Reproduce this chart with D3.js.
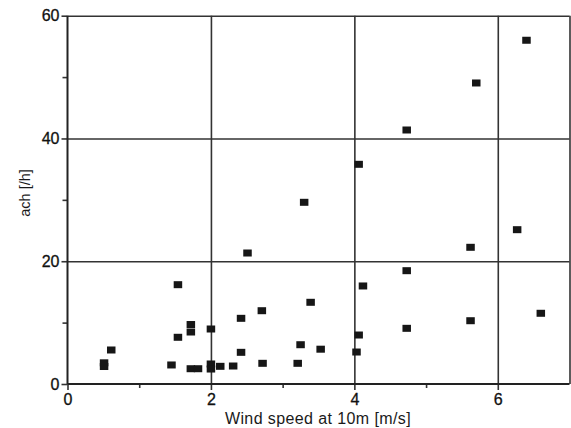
<!DOCTYPE html>
<html>
<head>
<meta charset="utf-8">
<script src="https://cdn.jsdelivr.net/npm/d3@7"></script>
<style>
  body { margin: 0; background: #fff; }
  svg { display: block; font-family: "Liberation Sans", Arial, sans-serif; }
  .tick text { font-size: 16px; fill: #111; stroke: #111; stroke-width: 0.3; }
  .axis path { display: none; }
  .axis line { stroke: #333; stroke-width: 1.6; }
</style>
</head>
<body>
<svg id="chart"></svg>
<script>
const WIDTH = 571;
const HEIGHT = 428;

// wind speed at 10 m [m/s]
const windSpeed = [
  0.51, 0.51, 0.61, 1.45, 1.54, 1.54, 1.72, 1.72, 1.72, 1.82,
  2.0, 2.0, 2.0, 2.13, 2.31, 2.42, 2.42, 2.51, 2.71, 2.72,
  3.21, 3.25, 3.30, 3.39, 3.53, 4.03, 4.06, 4.06, 4.12, 4.73,
  4.73, 4.73, 5.62, 5.62, 5.70, 6.27, 6.40, 6.60
];
// air changes per hour
const ach = [
  3.45, 2.85, 5.54, 3.10, 16.18, 7.61, 9.69, 8.47, 2.49, 2.49,
  8.96, 3.26, 2.44, 2.88, 2.93, 10.70, 5.16, 21.34, 11.94, 3.37,
  3.37, 6.40, 29.60, 13.31, 5.67, 5.21, 7.98, 35.79, 15.97, 41.38,
  18.46, 9.07, 22.27, 10.31, 49.04, 25.14, 56.0, 11.52
];

const xMajor = [0, 2, 4, 6];
const xMinor = [1, 3, 5];
const yMajor = [0, 20, 40, 60];
const yMinor = [10, 30, 50];
const xTitle = 'Wind speed at 10m [m/s]';
const yTitle = 'ach [/h]';

const LEFT = 67.5, RIGHT = 569.5, TOP = 15.7, BOTTOM = 384;

const svg = d3.select('#chart')
  .attr('width', WIDTH)
  .attr('height', HEIGHT);

const x = d3.scaleLinear().domain([0, 7]).range([LEFT, RIGHT]);
const y = d3.scaleLinear().domain([0, 60]).range([BOTTOM, TOP]);

// Grid lines
svg.append('g')
  .attr('class', 'axis grid')
  .attr('transform', 'translate(0,' + BOTTOM + ')')
  .call(d3.axisBottom(x).tickValues([2, 4, 6, 7]).tickSize(-(BOTTOM - TOP)).tickFormat(''));

svg.append('g')
  .attr('class', 'axis grid')
  .attr('transform', 'translate(' + LEFT + ',0)')
  .call(d3.axisLeft(y).tickValues([20, 40, 60]).tickSize(-(RIGHT - LEFT)).tickFormat(''));

// Axes
svg.append('g')
  .attr('class', 'axis')
  .attr('transform', 'translate(0,' + BOTTOM + ')')
  .call(d3.axisBottom(x).tickValues(xMajor).tickSize(6).tickPadding(4).tickFormat(d3.format('d')));

svg.append('g')
  .attr('class', 'axis')
  .attr('transform', 'translate(0,' + BOTTOM + ')')
  .call(d3.axisBottom(x).tickValues(xMinor).tickSize(4).tickFormat(''));

svg.append('g')
  .attr('class', 'axis')
  .attr('transform', 'translate(' + LEFT + ',0)')
  .call(d3.axisLeft(y).tickValues(yMajor).tickSize(6).tickPadding(2).tickFormat(d3.format('d')));

svg.append('g')
  .attr('class', 'axis')
  .attr('transform', 'translate(' + LEFT + ',0)')
  .call(d3.axisLeft(y).tickValues(yMinor).tickSize(5).tickFormat(''));

// Axis lines
svg.append('line')
  .attr('x1', LEFT).attr('x2', LEFT)
  .attr('y1', TOP).attr('y2', BOTTOM)
  .attr('stroke', '#222').attr('stroke-width', 2);

svg.append('line')
  .attr('x1', LEFT).attr('x2', RIGHT)
  .attr('y1', BOTTOM).attr('y2', BOTTOM)
  .attr('stroke', '#222').attr('stroke-width', 2);

// Titles
svg.append('text')
  .attr('x', 318)
  .attr('y', 424)
  .attr('text-anchor', 'middle')
  .attr('font-size', 16)
  .attr('letter-spacing', 0.4)
  .attr('fill', '#1a1a1a')
  .text(xTitle);

svg.append('text')
  .attr('transform', 'translate(30,193) rotate(-90)')
  .attr('text-anchor', 'middle')
  .attr('font-size', 14.5)
  .attr('fill', '#1a1a1a')
  .text(yTitle);

// Points
const data = windSpeed.map((w, i) => ({ w, a: ach[i] }));
const MW = 8.5, MH = 7;

svg.append('g')
  .selectAll('rect')
  .data(data)
  .enter()
  .append('rect')
  .attr('x', d => x(d.w) - MW / 2)
  .attr('y', d => y(d.a) - MH / 2)
  .attr('width', MW)
  .attr('height', MH)
  .attr('fill', '#161616');
</script>
</body>
</html>
